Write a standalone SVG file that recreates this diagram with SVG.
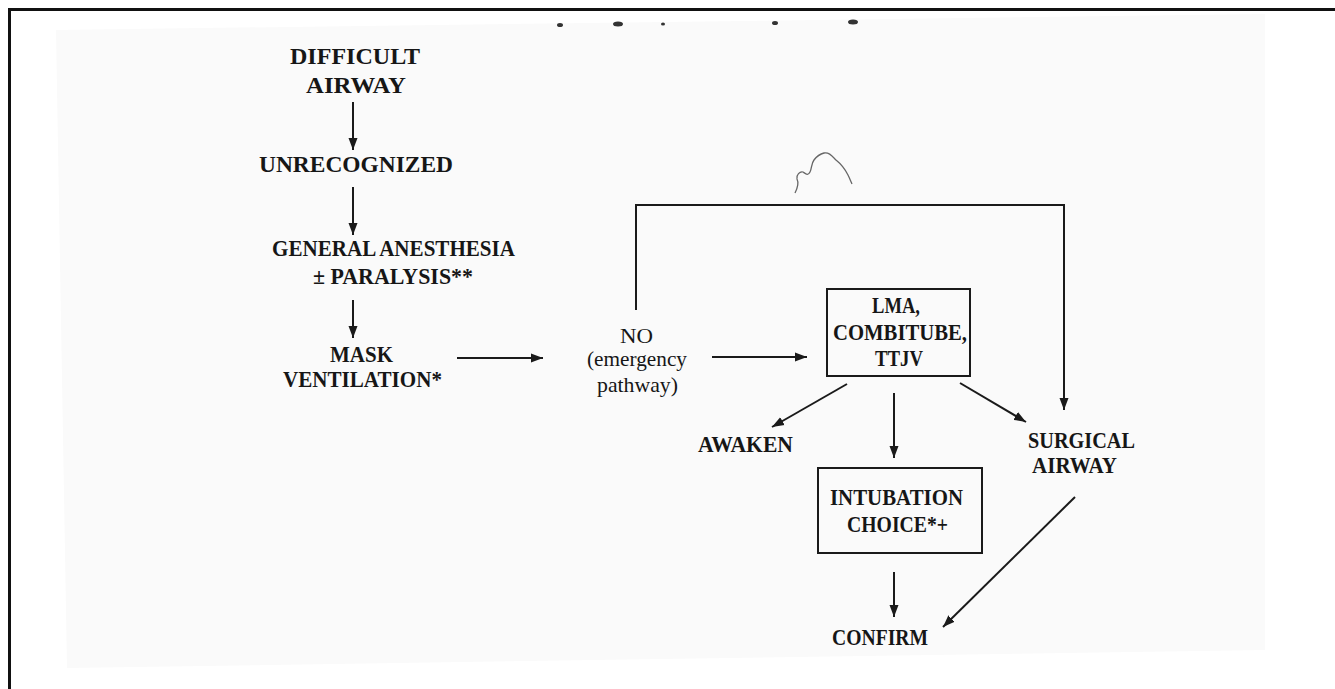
<svg xmlns="http://www.w3.org/2000/svg" width="1335" height="689" viewBox="0 0 1335 689">
  <style>
    .b { font-family: "Liberation Serif", "DejaVu Serif", "Times New Roman", serif; font-weight: bold; font-size: 23px; fill: #161616; }
    .r { font-family: "Liberation Serif", "DejaVu Serif", "Times New Roman", serif; font-weight: normal; font-size: 21px; fill: #161616; }
    .ln { stroke: #1a1a1a; stroke-width: 2; fill: none; }
    .bx { stroke: #1a1a1a; stroke-width: 2; fill: none; }
  </style>
  <defs>
    <marker id="ah" markerUnits="userSpaceOnUse" markerWidth="13" markerHeight="10" refX="12" refY="5" orient="auto">
      <path d="M0,0.5 L12,5 L0,9.5 z" fill="#1a1a1a"/>
    </marker>
  </defs>
  <rect x="0" y="0" width="1335" height="689" fill="#ffffff"/>
  <polygon points="56,30 1265,14 1265,650 67,668" fill="#fafafa"/>
  <line x1="8" y1="9.5" x2="1335" y2="9.5" stroke="#111" stroke-width="3"/>
  <line x1="9.5" y1="8" x2="9.5" y2="689" stroke="#111" stroke-width="3"/>
  <g id="scan-marks" fill="#333">
    <ellipse cx="560" cy="25" rx="3" ry="2"/>
    <ellipse cx="618" cy="24" rx="5" ry="2.5"/>
    <ellipse cx="663" cy="24" rx="2" ry="1.5"/>
    <ellipse cx="775" cy="23" rx="3" ry="2"/>
    <ellipse cx="853" cy="22" rx="5" ry="2.5"/>
  </g>
  <path id="squiggle" d="M795,193 C797,189 799,183 797,179 C796,175 800,171 803,172 C806,174 808,176 810,172 C812,168 811,164 814,160 C817,156 820,154 824,153 C829,152 832,156 836,160 C841,164 845,169 848,175 C850,179 851,182 852,184" stroke="#666" stroke-width="1.3" fill="none"/>

  <g id="connectors">
    <line class="ln" x1="353" y1="102" x2="353" y2="150" marker-end="url(#ah)"/>
    <line class="ln" x1="353" y1="187" x2="353" y2="235" marker-end="url(#ah)"/>
    <line class="ln" x1="353" y1="300" x2="353" y2="338" marker-end="url(#ah)"/>
    <line class="ln" x1="457" y1="358" x2="543" y2="358" marker-end="url(#ah)"/>
    <line class="ln" x1="712" y1="357" x2="807" y2="357" marker-end="url(#ah)"/>
    <polyline class="ln" points="636,310 636,205 1064,205 1064,410" marker-end="url(#ah)"/>
    <line class="ln" x1="847" y1="384" x2="772" y2="427" marker-end="url(#ah)"/>
    <line class="ln" x1="894" y1="393" x2="894" y2="458" marker-end="url(#ah)"/>
    <line class="ln" x1="960" y1="383" x2="1026" y2="422" marker-end="url(#ah)"/>
    <line class="ln" x1="894" y1="572" x2="894" y2="617" marker-end="url(#ah)"/>
    <line class="ln" x1="1075" y1="497" x2="943" y2="627" marker-end="url(#ah)"/>
  </g>

  <g id="difficult-airway">
    <text class="b" x="290" y="64" textLength="130" lengthAdjust="spacingAndGlyphs">DIFFICULT</text>
    <text class="b" x="306" y="93" textLength="100" lengthAdjust="spacingAndGlyphs">AIRWAY</text>
  </g>
  <g id="unrecognized">
    <text class="b" x="259" y="172" textLength="194" lengthAdjust="spacingAndGlyphs">UNRECOGNIZED</text>
  </g>
  <g id="general-anesthesia">
    <text class="b" x="272" y="256" textLength="243" lengthAdjust="spacingAndGlyphs">GENERAL ANESTHESIA</text>
    <text class="b" x="313" y="284" textLength="160" lengthAdjust="spacingAndGlyphs">± PARALYSIS**</text>
  </g>
  <g id="mask-ventilation">
    <text class="b" x="330" y="362" textLength="63" lengthAdjust="spacingAndGlyphs">MASK</text>
    <text class="b" x="283" y="387" textLength="159" lengthAdjust="spacingAndGlyphs">VENTILATION*</text>
  </g>
  <g id="no-emergency">
    <text class="r" x="620" y="343" font-size="22" textLength="33" lengthAdjust="spacingAndGlyphs">NO</text>
    <text class="r" x="587" y="366" textLength="100" lengthAdjust="spacingAndGlyphs">(emergency</text>
    <text class="r" x="597" y="392" textLength="81" lengthAdjust="spacingAndGlyphs">pathway)</text>
  </g>
  <g id="lma-box">
    <rect class="bx" x="827" y="289" width="143" height="87"/>
    <text class="b" x="872" y="313" font-size="21" textLength="48" lengthAdjust="spacingAndGlyphs">LMA,</text>
    <text class="b" x="833" y="340" font-size="21" textLength="134" lengthAdjust="spacingAndGlyphs">COMBITUBE,</text>
    <text class="b" x="875" y="366" font-size="21" textLength="48" lengthAdjust="spacingAndGlyphs">TTJV</text>
  </g>
  <g id="awaken">
    <text class="b" x="698" y="452" font-size="21" textLength="95" lengthAdjust="spacingAndGlyphs">AWAKEN</text>
  </g>
  <g id="surgical-airway">
    <text class="b" x="1028" y="448" font-size="21" textLength="107" lengthAdjust="spacingAndGlyphs">SURGICAL</text>
    <text class="b" x="1032" y="473" font-size="21" textLength="85" lengthAdjust="spacingAndGlyphs">AIRWAY</text>
  </g>
  <g id="intubation-choice">
    <rect class="bx" x="818" y="468" width="164" height="85"/>
    <text class="b" x="830" y="505" font-size="21" textLength="133" lengthAdjust="spacingAndGlyphs">INTUBATION</text>
    <text class="b" x="847" y="532" font-size="21" textLength="101" lengthAdjust="spacingAndGlyphs">CHOICE*+</text>
  </g>
  <g id="confirm">
    <text class="b" x="832" y="645" font-size="21" textLength="96" lengthAdjust="spacingAndGlyphs">CONFIRM</text>
  </g>
</svg>
